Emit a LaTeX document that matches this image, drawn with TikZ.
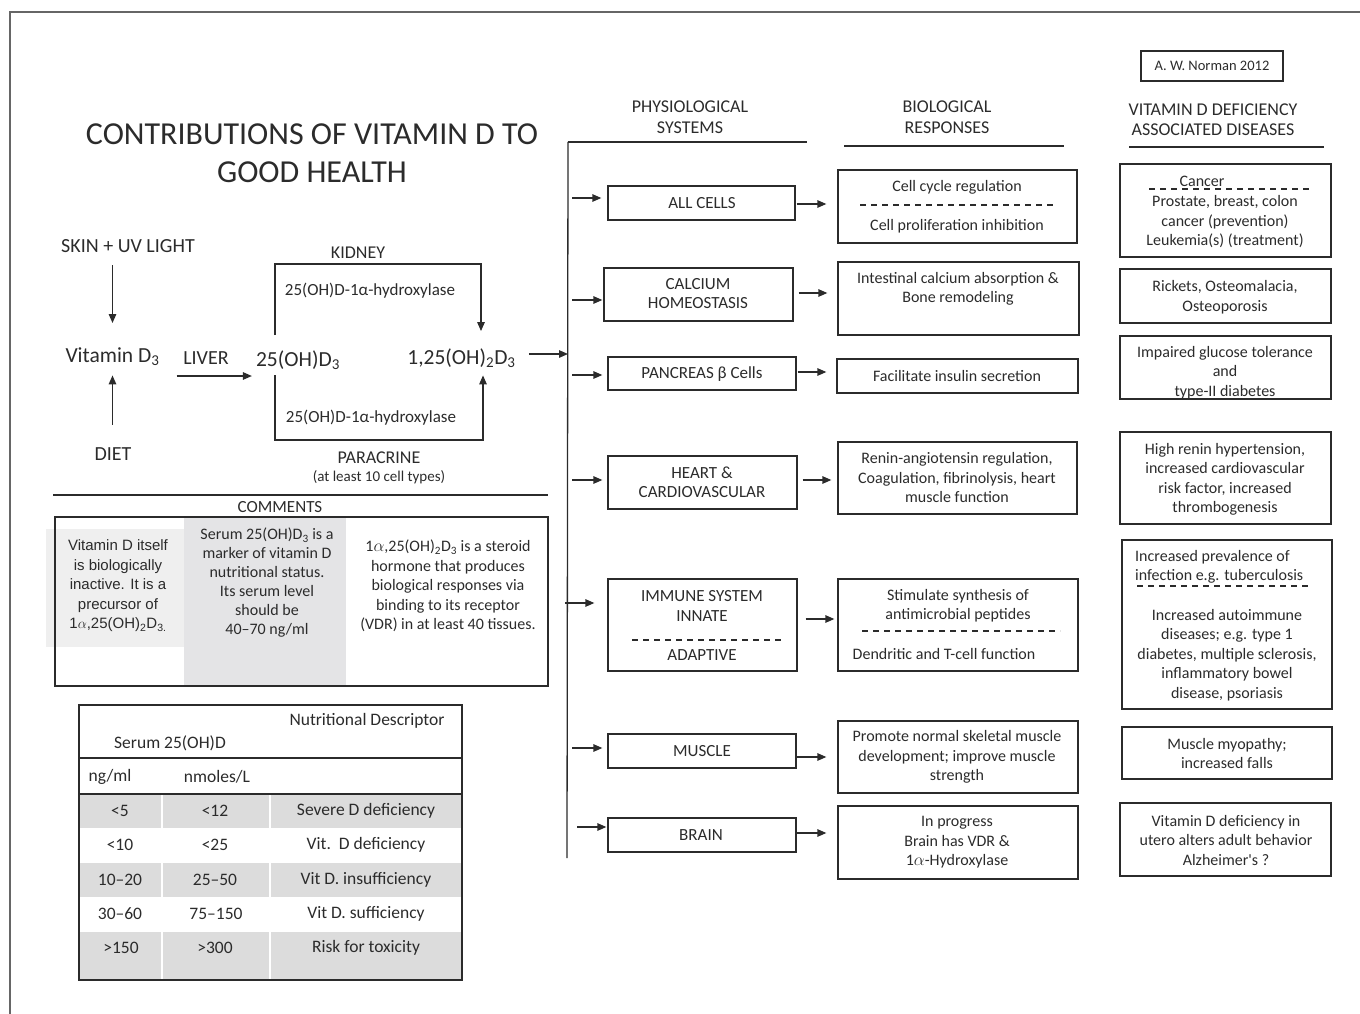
\documentclass[tikz,border=0pt]{standalone}
\usepackage{fontspec}
\setmainfont{Carlito}
\newfontfamily\arialfam{Liberation Sans}
\usetikzlibrary{arrows.meta,fit}
\definecolor{ink}{HTML}{2B2B2B}
\definecolor{framegrey}{HTML}{666666}
\definecolor{greyA}{HTML}{EFEFEF}
\definecolor{greyB}{HTML}{E4E4E6}
\definecolor{greyT}{HTML}{DCDCDC}
\newcommand\fsz[2]{\fontsize{#1}{#2}\selectfont}
\begin{document}
\begin{tikzpicture}[x=1pt,y=-1pt,
  box/.style={draw=ink, line width=1.3pt, inner sep=0pt},
  arr/.style={draw=ink, line width=1.3pt, -{Triangle[length=9pt,width=7.5pt]}},
  ln/.style={draw=ink, line width=1.3pt},
  dsh/.style={draw=ink, line width=1.1pt, dash pattern=on 6pt off 5pt},
  txt/.style={inner sep=0pt, align=center, text=ink},
  f14/.style={font=\fsz{14.5}{17}},
  f16/.style={font=\fsz{16}{19.5}},
  f17/.style={font=\fsz{17}{19.5}},
  f18/.style={font=\fsz{18}{21}},
  f20/.style={font=\fsz{20}{24}},
  f21/.style={font=\fsz{21.5}{24}},
  ftab/.style={font=\fsz{17.5}{20}},
]
\useasboundingbox (0,0) rectangle (1360,1014);
\draw[draw=framegrey, line width=2pt] (10,1014) -- (10,12) -- (1360,12);

% ---------- title ----------
\node[txt, font=\fsz{32}{38}] (title) at (312,153) {CONTRIBUTIONS OF VITAMIN D TO\\GOOD HEALTH};

% ---------- credit ----------
\node[box, fit={(1141,51) (1283,81)}] (normanbox) {};
\node[txt, f14] (normantext) at (normanbox.center) {A. W. Norman 2012};

% ---------- column headers ----------
\node[txt, f18] (hphys) at (690,117.5) {PHYSIOLOGICAL\\SYSTEMS};
\node[txt, f18] (hbio) at (947,117) {BIOLOGICAL\\RESPONSES};
\node[txt, f18, font=\fsz{18}{20}] (hdis) at (1213,120) {VITAMIN D DEFICIENCY\\ASSOCIATED DISEASES};
\draw[ln] (568,142) -- (807,142);
\draw[ln] (844,146) -- (1064,146);
\draw[ln] (1129,147) -- (1324,147);

% ---------- vertical bus ----------
\coordinate (busTop) at (568,142);
\coordinate (busBot) at (567,858);
\draw[ln] (busTop) -- (busBot);

% ---------- pathway ----------
\node[txt, f20, anchor=base] (skin) at (128,252) {SKIN + UV LIGHT};
\node[txt, f21, anchor=base] (vitd) at (112.5,362) {Vitamin D\textsubscript{3}};
\node[txt, f20, anchor=base] (diet) at (113,460) {DIET};
\node[txt, f20, anchor=base] (liver) at (206,364) {LIVER};
\node[txt, f21, anchor=base] (oh25) at (298,366) {25(OH)D\textsubscript{3}};
\node[txt, f21, anchor=base] (oh125) at (461.5,364) {1,25(OH)\textsubscript{2}D\textsubscript{3}};
\node[txt, f18, anchor=base] (kidney) at (358,258) {KIDNEY};
\node[txt, f17, anchor=base] (hydtop) at (370,295) {25(OH)D-1α-hydroxylase};
\node[txt, f17, anchor=base] (hydbot) at (371,422) {25(OH)D-1α-hydroxylase};
\node[txt, f18, anchor=base] (paracrine) at (379,463) {PARACRINE};
\node[txt, font=\fsz{15}{18}, anchor=base] (atleast) at (379,481) {(at least 10 cell types)};

\draw[arr, shorten <=13pt, shorten >=24pt] (vitd.north |- skin.south) -- (vitd.north);
\draw[arr, shorten <=22pt, shorten >=10pt] (vitd.south |- diet.north) -- (vitd.south);
\coordinate (liverlevel) at (0,376);
\draw[arr, shorten <=17pt, shorten >=4pt] (vitd.east |- liverlevel) -- (oh25.west |- liverlevel);

\coordinate (kidL) at (275,264);
\coordinate (kidR) at (481,264);
\draw[arr, shorten <=15pt, shorten >=17pt] (oh25.north -| kidL) -- (kidL) -- (kidR) -- (oh125.north -| kidR);
\coordinate (parL) at (275,440);
\coordinate (parR) at (483,440);
\draw[arr, shorten <=6pt, shorten >=8pt] (oh25.south -| parL) -- (parL) -- (parR) -- (oh125.south -| parR);

\coordinate (busIn) at (568,354);
\draw[arr, shorten <=13pt] (oh125.east |- busIn) -- (busIn);

% ---------- physiological systems ----------
\node[box, fit={(608,186) (795,220)}] (allcells) {};
\node[box, fit={(604,268) (793,321)}] (calcium) {};
\node[box, fit={(608,357) (796,390)}] (pancreas) {};
\node[box, fit={(608,456) (797,509)}] (heart) {};
\node[box, fit={(608,579) (797,671)}] (immune) {};
\node[box, fit={(608,734) (796,768)}] (muscle) {};
\node[box, fit={(608,818) (796,852)}] (brain) {};

\node[txt, f17] (allcellsT) at (702,203) {ALL CELLS};
\node[txt, f17, font=\fsz{17}{19}] (calciumT) at (698,294) {CALCIUM\\HOMEOSTASIS};
\node[txt, f17] (pancreasT) at (702,374) {PANCREAS β Cells};
\node[txt, f17, font=\fsz{17}{19}] (heartT) at (702,482) {HEART \&\\CARDIOVASCULAR};
\node[txt, f17, font=\fsz{17}{20.5}] (immuneT) at (702,606) {IMMUNE SYSTEM\\INNATE};
\draw[dsh] (632,640) -- (782,640);
\node[txt, f17] (adaptiveT) at (702,655) {ADAPTIVE};
\node[txt, f17] (muscleT) at (702,751) {MUSCLE};
\node[txt, f17] (brainT) at (701,835) {BRAIN};

\coordinate (b1) at (572,198);
\coordinate (b2) at (572,300);
\coordinate (b3) at (572,375);
\coordinate (b4) at (572,480);
\coordinate (b5) at (565,603);
\coordinate (b6) at (572,748);
\coordinate (b7) at (577,827);
\draw[arr, shorten >=6pt] (b1) -- (b1 -| allcells.west);
\draw[arr, shorten >=1pt] (b2) -- (b2 -| calcium.west);
\draw[arr, shorten >=5pt] (b3) -- (b3 -| pancreas.west);
\draw[arr, shorten >=5pt] (b4) -- (b4 -| heart.west);
\draw[arr, shorten >=13pt] (b5) -- (b5 -| immune.west);
\draw[arr, shorten >=5pt] (b6) -- (b6 -| muscle.west);
\draw[arr, shorten >=1pt] (b7) -- (b7 -| brain.west);

% ---------- biological responses ----------
\node[box, fit={(838,170) (1077,243)}] (r1) {};
\node[box, fit={(838,262) (1079,335)}] (r2) {};
\node[box, fit={(837,359) (1078,393)}] (r3) {};
\node[box, fit={(838,442) (1077,514)}] (r4) {};
\node[box, fit={(838,579) (1078,671)}] (r5) {};
\node[box, fit={(838,721) (1078,793)}] (r6) {};
\node[box, fit={(838,806) (1078,879)}] (r7) {};

\node[txt, f16] (r1a) at (957,187) {Cell cycle regulation};
\draw[dsh] (860,205) -- (1053,205);
\node[txt, f16] (r1b) at (957,226) {Cell proliferation inhibition};
\node[txt, f16] (r2T) at (958,289) {Intestinal calcium absorption \&\\Bone remodeling};
\node[txt, f16] (r3T) at (957,376) {Facilitate insulin secretion};
\node[txt, f16] (r4T) at (957,477.5) {Renin-angiotensin regulation,\\Coagulation, fibrinolysis, heart\\muscle function};
\node[txt, f16] (r5a) at (958,605.5) {Stimulate synthesis of\\antimicrobial peptides};
\draw[dsh] (862,631) -- (1060,631);
\node[txt, f16] (r5b) at (944,654) {Dendritic and T-cell function};
\node[txt, f16] (r6T) at (957,757) {Promote normal skeletal muscle\\development; improve muscle\\strength};
\node[txt, f16] (r7T) at (957,842.5) {In progress\\Brain has VDR \&\\1$\alpha$-Hydroxylase};

\coordinate (y1) at (0,204);
\coordinate (y2) at (0,293);
\coordinate (y3) at (0,372);
\coordinate (y4) at (0,480);
\coordinate (y5) at (0,619);
\coordinate (y6) at (0,757);
\coordinate (y7) at (0,833);
\draw[arr, shorten <=1pt, shorten >=11pt] (allcells.east |- y1) -- (r1.west |- y1);
\draw[arr, shorten <=5pt, shorten >=10pt] (calcium.east |- y2) -- (r2.west |- y2);
\draw[arr, shorten <=1pt, shorten >=10pt] (pancreas.east |- y3) -- (r3.west |- y3);
\draw[arr, shorten <=5pt, shorten >=6pt] (heart.east |- y4) -- (r4.west |- y4);
\draw[arr, shorten <=8pt, shorten >=3pt] (immune.east |- y5) -- (r5.west |- y5);
\draw[arr, shorten >=11pt] (muscle.east |- y6) -- (r6.west |- y6);
\draw[arr, shorten >=11pt] (brain.east |- y7) -- (r7.west |- y7);

% ---------- diseases ----------
\node[box, fit={(1120,164) (1331,257)}] (d1) {};
\node[box, fit={(1120,269) (1331,323)}] (d2) {};
\node[box, fit={(1120,336) (1331,399)}] (d3) {};
\node[box, fit={(1120,432) (1331,524)}] (d4) {};
\node[box, fit={(1122,540) (1332,709)}] (d5) {};
\node[box, fit={(1122,727) (1332,779)}] (d6) {};
\node[box, fit={(1120,803) (1331,876)}] (d7) {};

\node[txt, f16] (d1a) at (1202,181) {Cancer};
\draw[dsh] (1149,189) -- (1310,189);
\node[txt, f16] (d1b) at (1225,222) {Prostate, breast, colon\\cancer (prevention)\\Leukemia(s) (treatment)};
\node[txt, f16] (d2T) at (1225,297) {Rickets, Osteomalacia,\\Osteoporosis};
\node[txt, f16] (d3T) at (1225,372.5) {Impaired glucose tolerance\\and\\type-II diabetes};
\node[txt, f16] (d4T) at (1225,479.5) {High renin hypertension,\\increased cardiovascular\\risk factor, increased\\thrombogenesis};
\node[txt, f16, align=left, anchor=west] (d5a) at (1135,567) {Increased prevalence of\\infection e.g. tuberculosis};
\draw[dsh] (1137,586) -- (1311,586);
\node[txt, f16] (d5b) at (1227,655) {Increased autoimmune\\diseases; e.g. type 1\\diabetes, multiple sclerosis,\\inflammatory bowel\\disease, psoriasis};
\node[txt, f16] (d6T) at (1227,753.5) {Muscle myopathy;\\increased falls};
\node[txt, f16] (d7T) at (1226,840) {Vitamin D deficiency in\\utero alters adult behavior\\Alzheimer\textquotesingle s ?};

% ---------- comments ----------
\draw[ln] (53,495) -- (548,495);
\node[txt, f17] (commentsT) at (280,507) {COMMENTS};
\fill[greyA] (46,529) rectangle (184,647);
\fill[greyB] (184,518) rectangle (346,685);
\draw[ln] (55,517) rectangle (548,686);
\node[txt, font=\arialfam\fsz{15}{19.5}] (c1) at (118,586) {Vitamin D itself\\is biologically\\inactive. It is a\\precursor of\\1$\alpha$,25(OH)\textsubscript{2}D\textsubscript{3.}};
\node[txt, font=\fsz{16}{19}] (c2) at (267,583) {Serum 25(OH)D\textsubscript{3} is a\\marker of vitamin D\\nutritional status.\\Its serum level\\should be\\40–70 ng/ml};
\node[txt, font=\fsz{16}{19.5}] (c3) at (448,586) {1$\alpha$,25(OH)\textsubscript{2}D\textsubscript{3} is a steroid\\hormone that produces\\biological responses via\\binding to its receptor\\(VDR) in at least 40 tissues.};

% ---------- table ----------
\foreach \ya/\yb in {794/828, 863/897, 932/980} {
  \fill[greyT] (79,\ya) rectangle (161,\yb);
  \fill[greyT] (163,\ya) rectangle (269,\yb);
  \fill[greyT] (271,\ya) rectangle (462,\yb);
}
\draw[ln] (79,705) rectangle (462,980);
\draw[ln] (79,758) -- (462,758);
\draw[ln, line width=1.7pt] (79,794) -- (462,794);
\node[txt, ftab] (tdesc) at (367,721) {Nutritional Descriptor};
\node[txt, ftab] (tserum) at (170,743) {Serum 25(OH)D};
\node[txt, ftab] (tng) at (110,777) {ng/ml};
\node[txt, ftab] (tnm) at (217,777) {nmoles/L};
\node[txt, ftab] (ta1) at (120,811) {<5};
\node[txt, ftab] (ta2) at (215,811) {<12};
\node[txt, ftab] (ta3) at (366,811) {Severe D deficiency};
\node[txt, ftab] (tb1) at (120,845) {<10};
\node[txt, ftab] (tb2) at (215,845) {<25};
\node[txt, ftab] (tb3) at (366,845) {Vit.\ \ D deficiency};
\node[txt, ftab] (tc1) at (120,880) {10–20};
\node[txt, ftab] (tc2) at (215,880) {25–50};
\node[txt, ftab] (tc3) at (366,880) {Vit D. insufficiency};
\node[txt, ftab] (td1) at (120,914) {30–60};
\node[txt, ftab] (td2) at (216,914) {75–150};
\node[txt, ftab] (td3) at (366,914) {Vit D. sufficiency};
\node[txt, ftab] (te1) at (121,948) {>150};
\node[txt, ftab] (te2) at (215,948) {>300};
\node[txt, ftab] (te3) at (366,948) {Risk for toxicity};
\end{tikzpicture}
\end{document}
